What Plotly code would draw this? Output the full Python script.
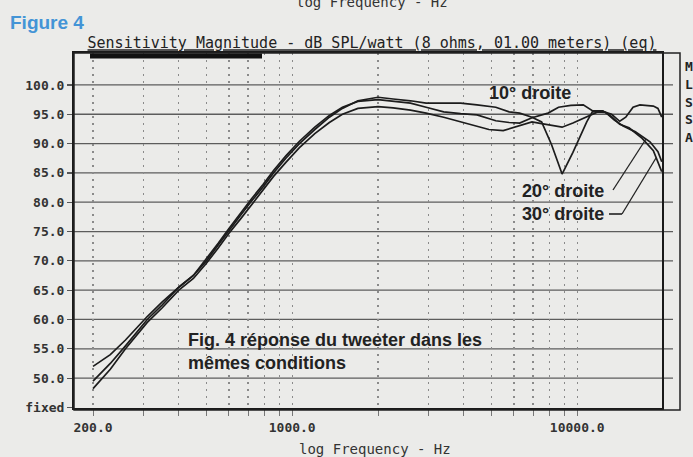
import plotly.graph_objects as go

# ---------------- data ----------------
freq_10 = [200, 230, 260, 310, 350, 400, 450, 500, 550, 600, 660, 720, 790, 860, 950, 1060, 1200, 1350, 1500, 1700,
           2000, 2260, 2600, 2950, 3400, 3900, 4450, 5180, 5770, 6280, 6940, 7500, 8130, 8850, 9660, 10800, 11300,
           12300, 13200, 14100, 14800, 15700, 16600, 17600, 18500, 19200, 19800]
spl_10 = [49.5, 52.5, 55.5, 60.0, 62.5, 65.5, 67.5, 70.0, 72.7, 75.2, 77.8, 80.2, 82.6, 85.0, 87.5, 90.0, 92.4, 94.5,
          96.0, 97.3, 97.9, 97.6, 97.3, 96.9, 96.9, 96.9, 96.6, 96.2, 95.4, 95.2, 94.5, 93.7, 89.8, 84.8, 88.5, 93.7,
          95.4, 95.5, 95.0, 93.8, 94.5, 96.2, 96.6, 96.5, 96.4, 96.0, 94.5]

freq_20 = [200, 230, 260, 310, 350, 400, 450, 500, 550, 600, 660, 720, 790, 860, 950, 1060, 1200, 1350, 1500, 1700,
           2000, 2260, 2600, 2950, 3400, 3900, 4450, 5180, 5770, 6280, 6940, 7900, 8600, 9500, 10500, 11300, 12300,
           13200, 14100, 15200, 16900, 18500, 19600, 19800]
spl_20 = [52.0, 54.0, 56.5, 60.5, 63.0, 65.5, 67.5, 70.3, 73.0, 75.5, 78.2, 80.6, 83.0, 85.4, 87.9, 90.4, 92.8, 94.8,
          96.2, 97.2, 97.5, 97.2, 96.9, 96.2, 95.4, 95.1, 94.9, 93.9, 93.6, 93.5, 94.4, 95.2, 96.2, 96.5, 96.6, 95.6,
          95.6, 94.6, 93.3, 92.7, 90.9, 88.8, 86.0, 85.2]

freq_30 = [200, 230, 260, 310, 350, 400, 450, 500, 550, 600, 660, 720, 790, 860, 950, 1060, 1200, 1350, 1500, 1700,
           2000, 2260, 2600, 2950, 3400, 3900, 4450, 4900, 5500, 6280, 6940, 7500, 8130, 8850, 9660, 10800, 11800,
           12600, 13500, 14500, 16000, 18000, 19200, 19800]
spl_30 = [48.2, 51.5, 55.0, 59.5, 62.0, 65.0, 67.0, 69.6, 72.2, 74.7, 77.2, 79.6, 82.0, 84.4, 86.8, 89.3, 91.7, 93.6,
          95.0, 96.0, 96.3, 96.1, 95.7, 95.2, 94.5, 93.7, 92.9, 92.4, 92.2, 93.0, 93.7, 93.4, 93.1, 92.8, 93.5, 94.6,
          95.4, 95.3, 94.0, 93.0, 92.0, 90.3, 88.6, 86.9]

x_grid_freqs = [200, 300, 400, 500, 600, 700, 800, 900, 1000,
                2000, 3000, 4000, 5000, 6000, 7000, 8000, 9000, 10000]
x_tick_labels = {200: "200.0", 1000: "1000.0", 10000: "10000.0"}
y_tick_vals = [45, 50, 55, 60, 65, 70, 75, 80, 85, 90, 95, 100]
y_tick_text = ["fixed", "50.0", "55.0", "60.0", "65.0", "70.0", "75.0", "80.0", "85.0", "90.0", "95.0", "100.0"]
y_grid_vals = [50, 55, 60, 65, 70, 75, 80, 85, 90, 95, 100]

title_text = "Sensitivity Magnitude - dB SPL/watt (8 ohms, 01.00 meters) (eq)"
x_title_text = "log Frequency - Hz"

# ---------------- layout helpers (pixel -> paper) ----------------
W, H = 693, 457
L, R, T, B = 74, 662, 53, 408


def px(x):
    return (x - L) / (R - L)


def py(y):
    return (B - y) / (B - T)


MONO = "DejaVu Sans Mono"
SANS = "Liberation Sans"
INK = "#1c1c1c"

fig = go.Figure()
for f, s in [(freq_10, spl_10), (freq_20, spl_20), (freq_30, spl_30)]:
    fig.add_trace(go.Scatter(x=f, y=s, mode="lines", line=dict(color=INK, width=1.7),
                             showlegend=False, hoverinfo="skip"))

shapes = []
for v in y_grid_vals:
    shapes.append(dict(type="line", xref="paper", yref="y", x0=0, x1=px(673), y0=v, y1=v,
                       line=dict(color="#5c5c5c", width=1.3), layer="below"))
# outer frame and thick top bar
shapes.append(dict(type="rect", xref="paper", yref="paper", x0=0, x1=px(680), y0=py(410), y1=1,
                   line=dict(color="#222", width=1.5)))
shapes.append(dict(type="line", xref="paper", yref="paper", x0=px(90), x1=px(262), y0=py(56), y1=py(56),
                   line=dict(color="#111", width=5)))
# leader lines
shapes.append(dict(type="line", xref="paper", yref="paper", x0=px(613), x1=px(646), y0=py(190), y1=py(139),
                   line=dict(color="#222", width=1.3)))
shapes.append(dict(type="line", xref="paper", yref="paper", x0=px(609), x1=px(622), y0=py(214), y1=py(214),
                   line=dict(color="#222", width=1.6)))
shapes.append(dict(type="line", xref="paper", yref="paper", x0=px(622), x1=px(656), y0=py(214), y1=py(158),
                   line=dict(color="#222", width=1.3)))

annotations = [
    dict(text="Figure 4", x=px(8), y=py(23), xanchor="left", yanchor="middle",
         font=dict(family=SANS, size=19, color="#4394d6", weight="bold")),
    dict(text=x_title_text, x=px(372), y=py(2), xanchor="center", yanchor="middle",
         font=dict(family=MONO, size=14, color="#333")),
    dict(text=x_title_text, x=px(375), y=py(449), xanchor="center", yanchor="middle",
         font=dict(family=MONO, size=14, color="#333")),
    dict(text="10° droite", x=px(530), y=py(93), xanchor="center", yanchor="middle",
         font=dict(family=SANS, size=18, color="#222", weight="bold")),
    dict(text="20° droite", x=px(520), y=py(191), xanchor="left", yanchor="middle",
         font=dict(family=SANS, size=18, color="#222", weight="bold")),
    dict(text="30° droite", x=px(520), y=py(214), xanchor="left", yanchor="middle",
         font=dict(family=SANS, size=18, color="#222", weight="bold")),
    dict(text="Fig. 4 réponse du tweeter dans les", x=px(186), y=py(340), xanchor="left", yanchor="middle",
         font=dict(family=SANS, size=18, color="#222", weight="bold")),
    dict(text="mêmes conditions", x=px(186), y=py(363), xanchor="left", yanchor="middle",
         font=dict(family=SANS, size=18, color="#222", weight="bold")),
]
for i, ch in enumerate(["M", "L", "S", "S", "A"]):
    annotations.append(dict(text=ch, x=px(683), y=py(67 + 17.5 * i), xanchor="left", yanchor="middle",
                            font=dict(family=MONO, size=13, color="#222", weight="bold")))
for a in annotations:
    a.update(xref="paper", yref="paper", showarrow=False)

fig.update_layout(
    width=W, height=H,
    margin=dict(l=L, r=W - R, t=T, b=H - B, pad=0),
    paper_bgcolor="#ebebe9", plot_bgcolor="#ebebe9",
    hovermode=False,
    title=dict(text=title_text, x=(372) / W, xanchor="center", xref="container",
               y=1 - 43 / H, yanchor="middle", yref="container",
               font=dict(family=MONO, size=15, color="#222", lineposition="under")),
    shapes=shapes, annotations=annotations,
    xaxis=dict(type="log", range=[2.2343, 4.2975],
               tickvals=x_grid_freqs, ticktext=[x_tick_labels.get(f, "") for f in x_grid_freqs],
               showgrid=True, gridcolor="#8a8a8a", griddash="2px,5px", gridwidth=1.2,
               ticks="outside", ticklen=6, tickcolor="#777", tickwidth=1,
               showline=True, linecolor="#1a1a1a", linewidth=2, mirror=True, zeroline=False,
               tickfont=dict(family=MONO, size=13, color="#333", weight="bold")),
    yaxis=dict(range=[44.9, 105.45], tickvals=y_tick_vals, ticktext=y_tick_text,
               showgrid=False, zeroline=False,
               ticks="outside", ticklen=5, tickcolor="#555", tickwidth=1.2,
               showline=True, linecolor="#1a1a1a", linewidth=2, mirror=True,
               tickfont=dict(family=MONO, size=13, color="#333", weight="bold")),
)

fig.write_html("out.html", config={"displayModeBar": False, "staticPlot": True},
               post_script="document.body.style.margin='0px';document.body.style.background='#ebebe9';")
